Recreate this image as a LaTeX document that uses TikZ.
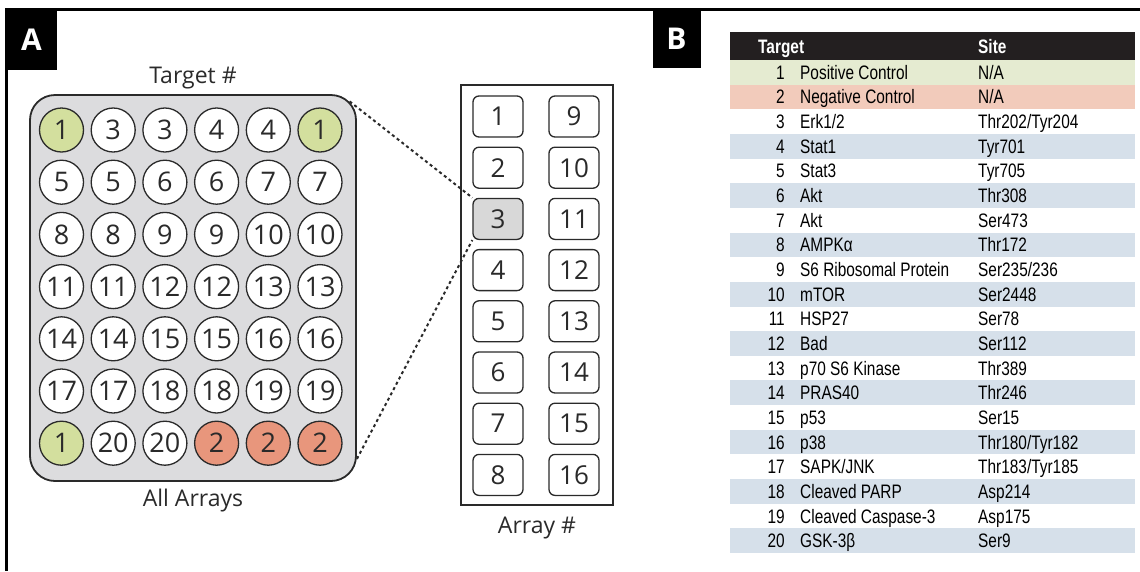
\documentclass[tikz,border=0pt]{standalone}
\usepackage{fontspec}
\setmainfont{Open Sans}
\newfontfamily\tabfont[FakeStretch=0.79]{Liberation Sans}
\usetikzlibrary{positioning,calc}

\definecolor{inkgray}{HTML}{2A2A2A}
\definecolor{plategray}{HTML}{DCDCDE}
\definecolor{slotgray}{HTML}{D8D8D8}
\definecolor{posgreen}{HTML}{D3DF9E}
\definecolor{negsalmon}{HTML}{E8967C}
\definecolor{rowgreen}{HTML}{E5EBD1}
\definecolor{rowpink}{HTML}{F2CBBB}
\definecolor{rowblue}{HTML}{D6E0EA}
\definecolor{headdark}{HTML}{231F20}

\begin{document}
\begin{tikzpicture}[
    x=1pt, y=1pt,
    frame/.style={line width=3pt, black},
    panel/.style={
        fill=black,
        text=white,
        inner sep=0pt,
        font=\fontsize{30}{30}\selectfont\bfseries
    },
    platebox/.style={
        draw=inkgray,
        fill=plategray,
        line width=1.8pt,
        rounded corners=25pt,
        minimum width=326pt,
        minimum height=386pt
    },
    well/.style={
        circle,
        draw=inkgray,
        line width=1.3pt,
        minimum size=44pt,
        inner sep=0pt,
        text=inkgray,
        font=\fontsize{27}{27}\selectfont
    },
    rack/.style={
        draw=inkgray,
        line width=1.3pt,
        minimum width=152pt,
        minimum height=420pt
    },
    slot/.style={
        draw=inkgray,
        line width=1.3pt,
        rounded corners=6pt,
        minimum width=50pt,
        minimum height=41pt,
        inner sep=0pt,
        text=inkgray,
        font=\fontsize{26}{26}\selectfont
    },
    caption/.style={
        inner sep=0pt,
        text=inkgray,
        font=\fontsize{23}{23}\selectfont
    },
    zoomline/.style={
        inkgray,
        line width=2pt,
        dash pattern=on 3pt off 3pt
    },
    cell/.style={
        inner sep=0pt,
        text=black,
        font=\tabfont\fontsize{19.5}{19.5}\selectfont
    },
    headcell/.style={
        inner sep=0pt,
        anchor=base west,
        text=white,
        font=\tabfont\fontsize{19.5}{19.5}\selectfont\bfseries
    }
]

\useasboundingbox (0,0) rectangle (1140,-571);

% outer frame and panel labels
\draw[frame] (5,-9.5) -- (1140,-9.5);
\draw[frame] (6.5,-8) -- (6.5,-571);
\node[panel, minimum width=51pt, minimum height=61pt] (labA) at (31.5,-39.5) {A};
\node[panel, minimum width=48pt, minimum height=59pt] (labB) at (676.5,-38.5) {B};

% panel A: plate of all arrays
\node[platebox] (plate) at (193,-288) {};
\node[caption, above=5pt of plate] (tgt) {Target \#};
\node[caption, below=7pt of plate] (allarr) {All Arrays};

\foreach \lab [count=\k from 0] in {1,3,3,4,4,1, 5,5,6,6,7,7, 8,8,9,9,10,10,
    11,11,12,12,13,13, 14,14,15,15,16,16, 17,17,18,18,19,19, 1,20,20,2,2,2} {
  \pgfmathtruncatemacro{\wrow}{\k/6}
  \pgfmathtruncatemacro{\wcol}{mod(\k,6)}
  \ifnum\lab=1 \def\wfill{posgreen}\else
    \ifnum\lab=2 \def\wfill{negsalmon}\else \def\wfill{white}\fi\fi
  \node[well, fill=\wfill] (w-\wrow-\wcol)
    at ({61.5+51.7*\wcol},{-130-52.2*\wrow}) {\lab};
}

% panel A: array numbers
\node[rack] (arrays) at (537,-295) {};
\node[caption, below=11pt of arrays] (arrnum) {Array \#};

\foreach \n in {1,...,16} {
  \pgfmathtruncatemacro{\scol}{(\n-1)/8}
  \pgfmathtruncatemacro{\srow}{mod(\n-1,8)}
  \ifnum\n=3 \def\sfill{slotgray}\else \def\sfill{white}\fi
  \node[slot, fill=\sfill] (arr\n) at ({498+76*\scol},{-116.5-51.2*\srow}) {\n};
}

\draw[zoomline] ($(plate.north east)+(-7.3,-7.3)$) -- (arr3.north west);
\draw[zoomline] ($(plate.south east)+(0,23)$) -- (arr3.south west);

% panel B: target table
\fill[headdark] (730,-32) rectangle (1135,-60);
\node[headcell] (hdtgt) at (758,-53) {Target};
\node[headcell] (hdsite) at (978,-53) {Site};

\foreach \num/\name/\site [count=\i] in {
    1/Positive Control/{N/A},
    2/Negative Control/{N/A},
    3/{Erk1/2}/{Thr202/Tyr204},
    4/Stat1/Tyr701,
    5/Stat3/Tyr705,
    6/Akt/Thr308,
    7/Akt/Ser473,
    8/AMPKα/Thr172,
    9/S6 Ribosomal Protein/{Ser235/236},
    10/mTOR/Ser2448,
    11/HSP27/Ser78,
    12/Bad/Ser112,
    13/p70 S6 Kinase/Thr389,
    14/PRAS40/Thr246,
    15/p53/Ser15,
    16/p38/{Thr180/Tyr182},
    17/{SAPK/JNK}/{Thr183/Tyr185},
    18/Cleaved PARP/Asp214,
    19/Cleaved Caspase-3/Asp175,
    20/GSK-3β/Ser9} {
  \ifnum\i=1 \def\rfill{rowgreen}\else
    \ifnum\i=2 \def\rfill{rowpink}\else
      \ifodd\i \def\rfill{white}\else \def\rfill{rowblue}\fi\fi\fi
  \fill[\rfill] (730,{-60-24.65*(\i-1)}) rectangle (1135,{-60-24.65*\i});
  \node[cell, anchor=base east] (num-\i) at (785,{-79.3-24.65*(\i-1)}) {\num};
  \node[cell, anchor=base west] (name-\i) at (800,{-79.3-24.65*(\i-1)}) {\name};
  \node[cell, anchor=base west] (site-\i) at (978,{-79.3-24.65*(\i-1)}) {\site};
}

\end{tikzpicture}
\end{document}
